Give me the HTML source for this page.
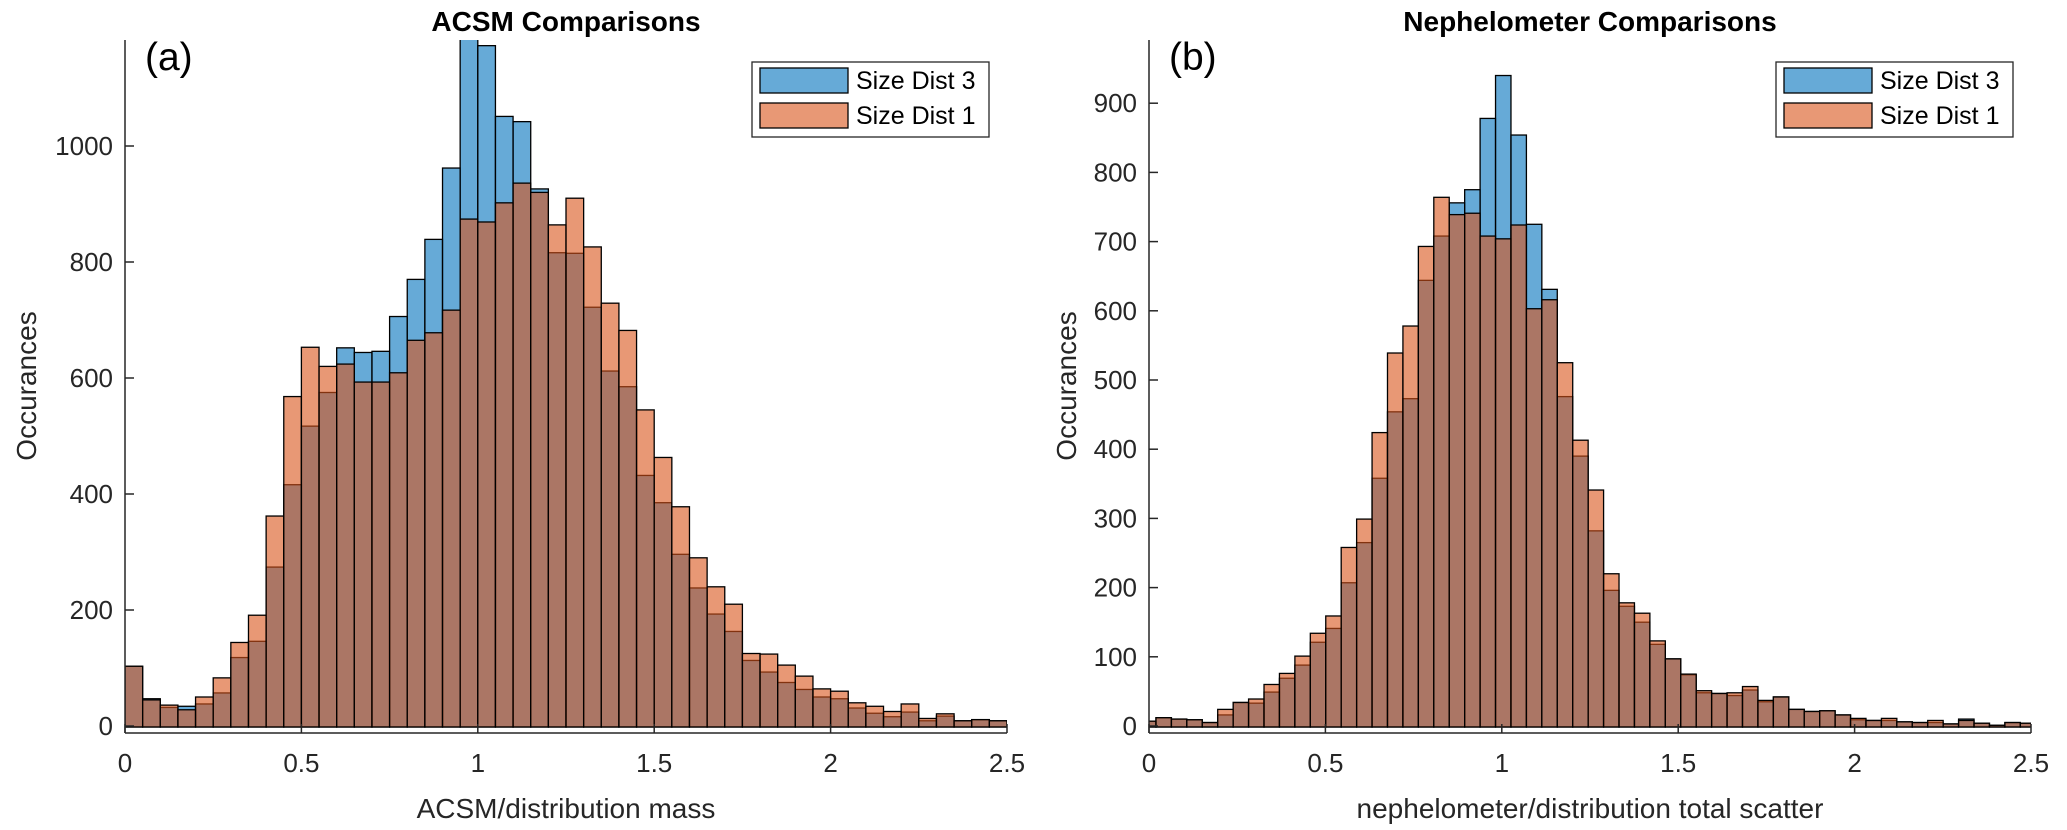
<!DOCTYPE html>
<html><head><meta charset="utf-8"><style>
html,body{margin:0;padding:0;background:#fff;}
svg{display:block;font-family:"Liberation Sans",Arial,sans-serif;}
</style></head><body>
<svg id="chart" width="2067" height="830" viewBox="0 0 2067 830" xmlns="http://www.w3.org/2000/svg">
<defs>
<clipPath id="clipL"><rect x="125" y="40" width="882" height="693"/></clipPath>
<clipPath id="clipR"><rect x="1149" y="40" width="882" height="693"/></clipPath>
</defs>
<g id="panelL"></g>
<g id="panelR"></g>
</svg>
<script>
// ---- Panel (a) data: ACSM, bins of 0.05 from 0 to 2.5 ----
const acsmBinStart = 0;
const acsmBinWidth = 0.05;
const acsmDist3 = [103,47,32,34,38,57,118,146,274,416,517,575,652,644,646,706,770,839,962,1230,1173,1051,1042,926,816,815,722,612,585,432,385,296,238,193,163,113,93,75,63,50,47,31,22,16,24,9,17,9,11,9];
const acsmDist1 = [103,45,36,28,50,83,144,191,362,568,653,620,624,593,593,609,665,678,717,874,869,902,936,920,864,910,826,729,682,545,463,378,290,240,210,125,124,105,86,64,60,40,34,25,38,13,21,9,11,9];
const acsmXTicks = [0,0.5,1,1.5,2,2.5];
const acsmXTickLabels = ["0","0.5","1","1.5","2","2.5"];
const acsmYTicks = [0,200,400,600,800,1000];
const acsmYTickLabels = ["0","200","400","600","800","1000"];

// ---- Panel (b) data: Nephelometer ----
const nephBinStart = -0.0240;
const nephBinWidth = 0.04375;
const nephDist3 = [7,12,10,9,5,16,34,33,49,69,88,121,141,207,265,358,454,473,644,708,756,775,878,940,854,725,631,476,390,282,196,173,150,118,97,74,48,47,44,52,35,42,24,21,22,16,9,8,8,6,5,5,3,10,4,1,5,4];
const nephDist1 = [7,12,10,9,5,24,34,39,60,76,101,134,159,258,299,424,539,578,693,764,739,741,708,704,724,603,616,525,413,341,220,178,163,123,97,75,51,47,48,57,37,42,24,21,22,16,11,8,11,6,5,8,3,8,4,1,5,4];
const nephXTicks = [0,0.5,1,1.5,2,2.5];
const nephXTickLabels = ["0","0.5","1","1.5","2","2.5"];
const nephYTicks = [0,100,200,300,400,500,600,700,800,900];
const nephYTickLabels = ["0","100","200","300","400","500","600","700","800","900"];

const NS = "http://www.w3.org/2000/svg";
function mk(tag, attrs, parent){
  const e = document.createElementNS(NS, tag);
  for (const k in attrs) e.setAttribute(k, attrs[k]);
  parent.appendChild(e);
  return e;
}

function drawPanel(g, cfg){
  const x0 = cfg.left, x1 = cfg.left + 882, yTop = 40, yAxis = 733, yZero = 726;
  const sx = v => x0 + (v - cfg.xmin) / (cfg.xmax - cfg.xmin) * 882;
  const sy = v => yZero - v * cfg.pxPerUnit;
  const bars = mk('g', {'clip-path': 'url(#' + cfg.clip + ')'}, g);
  
  
  const series = [
    {vals: cfg.s3, fill: '#0072BD', name: 'size-dist-3-bar'},
    {vals: cfg.s1, fill: '#D95319', name: 'size-dist-1-bar'}
  ];
  series.forEach(s => {
    s.vals.forEach((v, i) => {
      const a = cfg.binStart + i * cfg.binWidth, b = a + cfg.binWidth;
      const xa = sx(a), xb = sx(b);
      const r = mk('rect', {x: xa, y: sy(v), width: xb - xa, height: sy(0) - sy(v) + 1,
        fill: s.fill, 'fill-opacity': 0.6, stroke: '#000', 'stroke-width': 1.3}, bars);
      
      
    });
  });
  // axes
  const ax = mk('g', {stroke: '#262626', 'stroke-width': 1.5, fill: 'none'}, g);
  
  
  mk('line', {x1: x0, y1: yTop, x2: x0, y2: yAxis}, ax);
  mk('line', {x1: x0, y1: yAxis, x2: x1, y2: yAxis}, ax);
  cfg.xt.forEach((t, i) => {
    const x = sx(t);
    mk('line', {x1: x, y1: yAxis, x2: x, y2: yAxis - 9}, ax);
    const tx = mk('text', {x: x, y: 772, 'font-size': 26, 'text-anchor': 'middle', fill: '#262626'}, g);
    tx.textContent = cfg.xl[i];
    
    
  });
  cfg.yt.forEach((t, i) => {
    const y = sy(t);
    mk('line', {x1: x0, y1: y, x2: x0 + 9, y2: y}, ax);
    const tx = mk('text', {x: x0 - 12, y: y + 9, 'font-size': 26, 'text-anchor': 'end', fill: '#262626'}, g);
    tx.textContent = cfg.yl[i];
    
    
  });
  const title = mk('text', {x: x0 + 441, y: 31, 'font-size': 28, 'font-weight': 'bold', 'text-anchor': 'middle', fill: '#000'}, g);
  title.textContent = cfg.title;
  
  
  const xlab = mk('text', {x: x0 + 441, y: 818, 'font-size': 28, 'text-anchor': 'middle', fill: '#262626'}, g);
  xlab.textContent = cfg.xlabel;
  
  
  const yx = cfg.ylabelX;
  const ylab = mk('text', {x: yx, y: 386, 'font-size': 28, 'text-anchor': 'middle', fill: '#262626', transform: 'rotate(-90 ' + yx + ' 386)'}, g);
  ylab.textContent = 'Occurances';
  
  
  const pl = mk('text', {x: x0 + 20, y: 70, 'font-size': 39, fill: '#000'}, g);
  pl.textContent = cfg.panel;
  
  
  // legend
  const lx = x0 + 627;
  const lg = mk('g', {}, g);
  
  
  mk('rect', {x: lx, y: 62, width: 237, height: 75, fill: '#fff', stroke: '#262626', 'stroke-width': 1.3}, lg);
  [['#0072BD', 'Size Dist 3', 68], ['#D95319', 'Size Dist 1', 103]].forEach(e => {
    const sw = mk('rect', {x: lx + 8, y: e[2], width: 88, height: 25, fill: e[0], 'fill-opacity': 0.6, stroke: '#000', 'stroke-width': 1.3}, lg);
    
    
    const t = mk('text', {x: lx + 104, y: e[2] + 21, 'font-size': 25, fill: '#000'}, lg);
    t.textContent = e[1];
    
    
  });
}

drawPanel(document.getElementById('panelL'), {
  left: 125, xmin: 0, xmax: 2.5, pxPerUnit: 0.58, clip: 'clipL',
  binStart: acsmBinStart, binWidth: acsmBinWidth, s3: acsmDist3, s1: acsmDist1,
  xt: acsmXTicks, xl: acsmXTickLabels, yt: acsmYTicks, yl: acsmYTickLabels,
  title: 'ACSM Comparisons', xlabel: 'ACSM/distribution mass', ylabelX: 36, panel: '(a)'
});
drawPanel(document.getElementById('panelR'), {
  left: 1149, xmin: 0, xmax: 2.5, pxPerUnit: 0.692, clip: 'clipR',
  binStart: nephBinStart, binWidth: nephBinWidth, s3: nephDist3, s1: nephDist1,
  xt: nephXTicks, xl: nephXTickLabels, yt: nephYTicks, yl: nephYTickLabels,
  title: 'Nephelometer Comparisons', xlabel: 'nephelometer/distribution total scatter', ylabelX: 1076, panel: '(b)'
});
</script>
</body></html>
